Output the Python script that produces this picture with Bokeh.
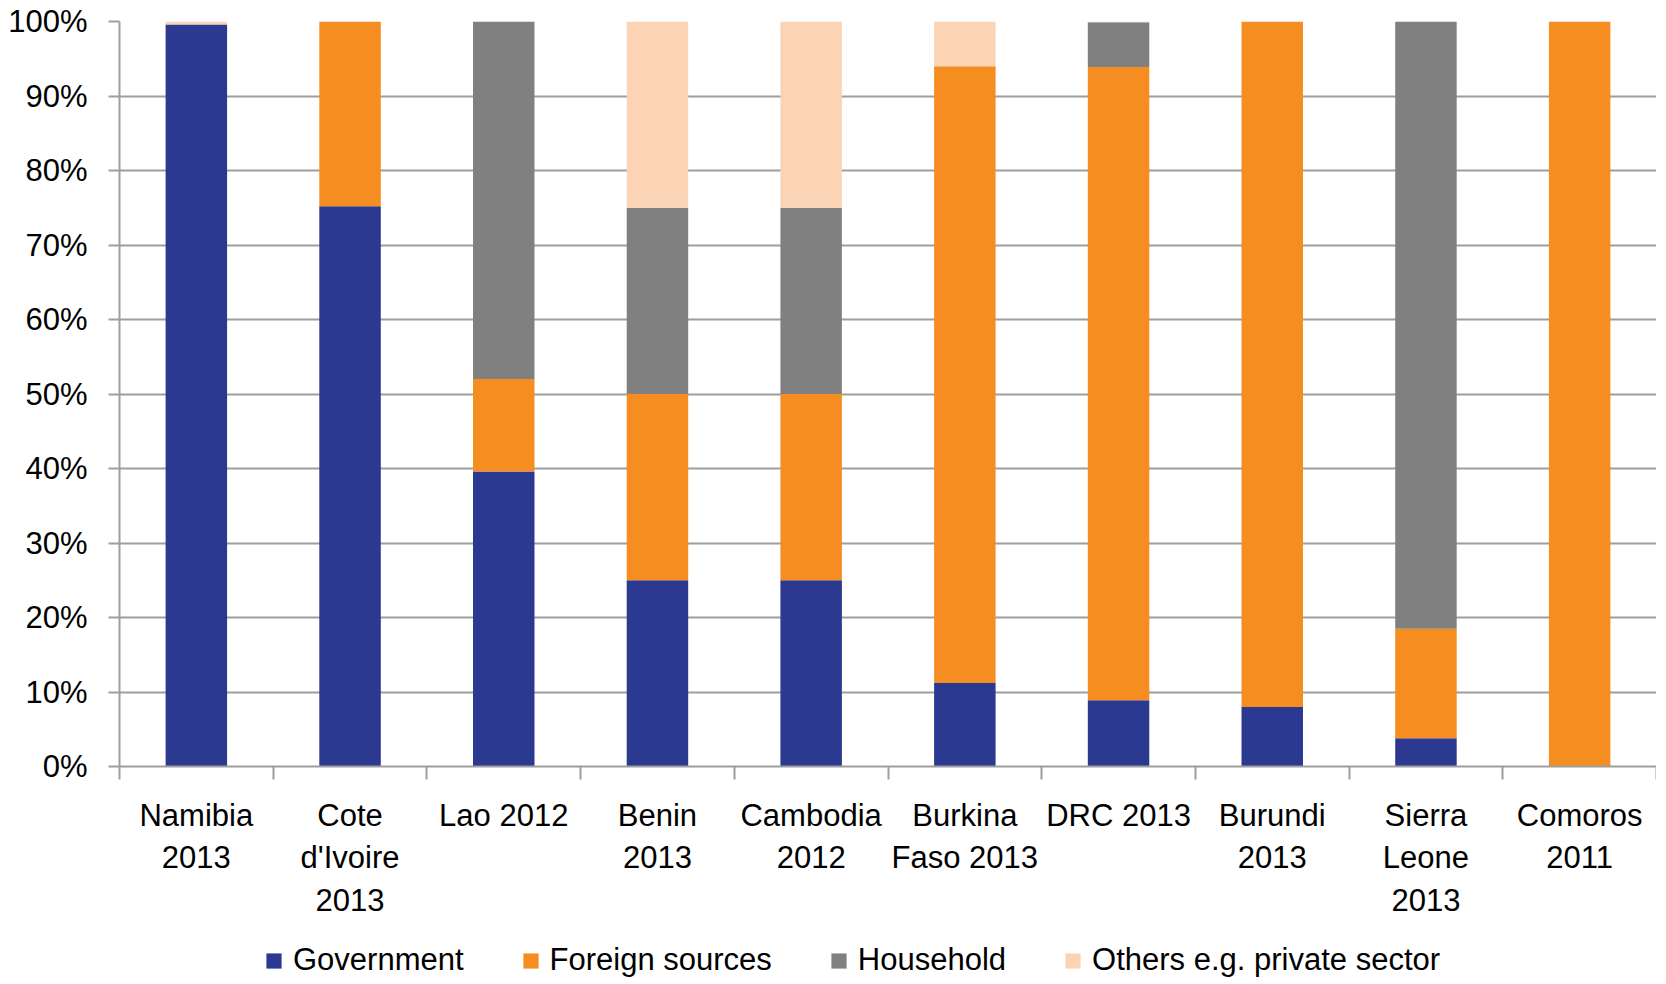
from bokeh.plotting import figure
from bokeh.models import Range1d, FixedTicker, Legend, LegendItem
from bokeh.layouts import column
from bokeh.embed import file_html
from bokeh.resources import INLINE

categories = ["Namibia\n2013", "Cote\nd'Ivoire\n2013", "Lao 2012", "Benin\n2013", "Cambodia\n2012",
              "Burkina\nFaso 2013", "DRC 2013", "Burundi\n2013", "Sierra\nLeone\n2013", "Comoros\n2011"]
government = [99.6, 75.2, 39.6, 25.0, 25.0, 11.2, 8.9, 8.0, 3.8, 0.0]
foreign = [0.0, 24.8, 12.4, 25.0, 25.0, 82.8, 85.0, 92.0, 14.7, 100.0]
household = [0.0, 0.0, 48.0, 25.0, 25.0, 0.0, 6.0, 0.0, 81.5, 0.0]
others = [0.4, 0.0, 0.0, 25.0, 25.0, 6.0, 0.1, 0.0, 0.0, 0.0]
series = ["Government", "Foreign sources", "Household", "Others e.g. private sector"]
colors = ["#2B3990", "#F58D20", "#808080", "#FBD4B6"]
yticks = [0, 10, 20, 30, 40, 50, 60, 70, 80, 90, 100]

FONT = "Liberation Sans"
GRID = "#9e9e9e"

xs = [i + 0.5 for i in range(len(categories))]
data = dict(x=xs, Government=government)
data["Foreign sources"] = foreign
data["Household"] = household
data["Others e.g. private sector"] = others

p = figure(width=1656, height=924, output_backend="svg", toolbar_location=None,
           x_range=Range1d(0, len(categories)), y_range=Range1d(0, 100),
           min_border_left=119, min_border_right=0, min_border_top=21, min_border_bottom=158)
p.outline_line_color = None

renderers = p.vbar_stack(series, x="x", width=0.4, color=colors, source=data, line_color=None)

# y axis
p.yaxis.ticker = FixedTicker(ticks=yticks)
p.yaxis.major_label_overrides = {t: f"{t}%" for t in yticks}
p.yaxis.major_label_text_font = FONT
p.yaxis.major_label_text_font_size = "31px"
p.yaxis.major_label_text_color = "black"
p.yaxis.major_tick_out = 11
p.yaxis.major_tick_in = 0
p.yaxis.minor_tick_line_color = None
p.yaxis.major_tick_line_color = GRID
p.yaxis.major_tick_line_width = 2
p.yaxis.axis_line_color = GRID
p.yaxis.axis_line_width = 2
p.yaxis.major_label_standoff = 21

# x axis: labels at bar centres, minor ticks at category boundaries
p.xaxis.ticker = FixedTicker(ticks=xs, minor_ticks=list(range(len(categories) + 1)))
p.xaxis.major_label_overrides = {x: c for x, c in zip(xs, categories)}
p.xaxis.major_label_text_font = FONT
p.xaxis.major_label_text_font_size = "31px"
p.xaxis.major_label_text_color = "black"
p.xaxis.major_label_text_line_height = 1.22
p.xaxis.major_tick_line_color = None
p.xaxis.major_tick_out = 0
p.xaxis.major_tick_in = 0
p.xaxis.minor_tick_line_color = GRID
p.xaxis.minor_tick_line_width = 2
p.xaxis.minor_tick_out = 13
p.xaxis.minor_tick_in = 0
p.xaxis.axis_line_color = GRID
p.xaxis.axis_line_width = 2
p.xaxis.major_label_standoff = 18

p.xgrid.grid_line_color = None
p.ygrid.ticker = FixedTicker(ticks=yticks)
p.ygrid.grid_line_color = GRID
p.ygrid.grid_line_width = 2

# legend in its own strip below the chart
lg = figure(width=1656, height=56, output_backend="svg", toolbar_location=None,
            x_range=Range1d(0, 1), y_range=Range1d(0, 1),
            x_axis_location=None, y_axis_location=None,
            min_border_left=0, min_border_right=0, min_border_top=16, min_border_bottom=0)
lg.outline_line_color = None
lg.xgrid.grid_line_color = None
lg.ygrid.grid_line_color = None
dummies = [lg.vbar(x=[-10], top=[0], width=0.1, color=c, line_color=None) for c in colors]
items = [LegendItem(label=s, renderers=[r]) for s, r in zip(series, dummies)]
legend = Legend(items=items, orientation="horizontal", location="left",
                glyph_width=19, glyph_height=19, label_standoff=10, spacing=57,
                padding=0, margin=145, border_line_color=None, background_fill_alpha=0,
                label_text_font=FONT, label_text_font_size="31px", label_text_color="black")
lg.add_layout(legend, "center")

layout = column(p, lg, spacing=0)
open("out.html", "w").write(file_html(layout, INLINE))
